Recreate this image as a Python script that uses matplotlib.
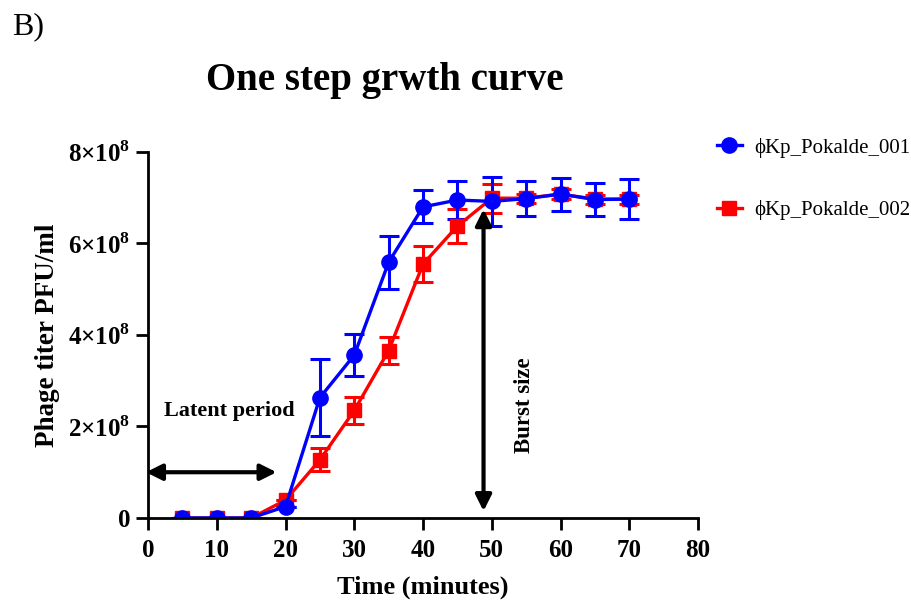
import numpy as np
import matplotlib
matplotlib.use('Agg')
import matplotlib.pyplot as plt
from matplotlib.lines import Line2D

plt.rcParams['font.family'] = ['Liberation Serif', 'DejaVu Serif']
plt.rcParams['mathtext.fontset'] = 'custom'
plt.rcParams['mathtext.rm'] = 'Liberation Serif:bold'
plt.rcParams['mathtext.bf'] = 'Liberation Serif:bold'

time = [5, 10, 15, 20, 25, 30, 35, 40, 45, 50, 55, 60, 65, 70]
# titer in units of 1e8 PFU/ml
kp001 = [0, 0, 0, 0.25, 2.63, 3.56, 5.59, 6.80, 6.95, 6.92, 6.98, 7.08, 6.96, 6.97]
kp001_err = [0, 0, 0, 0, 0.84, 0.46, 0.58, 0.36, 0.42, 0.53, 0.39, 0.36, 0.37, 0.44]
kp002 = [0, 0, 0, 0.39, 1.27, 2.35, 3.66, 5.55, 6.38, 6.99, 6.99, 7.08, 6.97, 6.97]
kp002_err = [0, 0, 0, 0, 0.25, 0.29, 0.30, 0.40, 0.38, 0.32, 0.1, 0.1, 0.1, 0.1]

yticks = [0, 2, 4, 6, 8]
ytick_labels = ['0', r'$2{\times}10^{8}$', r'$4{\times}10^{8}$', r'$6{\times}10^{8}$', r'$8{\times}10^{8}$']

fig = plt.figure(figsize=(9.12, 6), dpi=100)
ax = fig.add_axes([0.1623, 0.1367, 0.6031, 0.61])

scale = 1e8
ax.errorbar(time, np.array(kp002) * scale, yerr=np.array(kp002_err) * scale,
            color='#ff0000', marker='s', markersize=10, linewidth=2.4,
            elinewidth=2.2, capsize=7, capthick=2.2)
ax.errorbar(time, np.array(kp001) * scale, yerr=np.array(kp001_err) * scale,
            color='#0000ff', marker='o', markersize=11, linewidth=2.4,
            elinewidth=2.2, capsize=7, capthick=2.2)

ax.set_xlim(0, 80)
ax.set_ylim(0, 8e8)
ax.set_xticks(range(0, 81, 10))
ax.set_yticks([v * scale for v in yticks])
ax.set_yticklabels(ytick_labels)

for s in ['top', 'right']:
    ax.spines[s].set_visible(False)
for s in ['left', 'bottom']:
    ax.spines[s].set_linewidth(2)
ax.tick_params(direction='out', length=8.5, width=2, labelsize=18)
ax.tick_params(axis='x', pad=6.5)
ax.tick_params(axis='y', pad=4)
for lab in ax.get_xticklabels() + ax.get_yticklabels():
    lab.set_fontweight('bold')

ax.set_xlabel('Time (minutes)', fontsize=19, fontweight='bold', labelpad=10)
ax.set_ylabel('Phage titer PFU/ml', fontsize=19.5, fontweight='bold', labelpad=6)

# latent period arrow
ax.annotate('', xy=(-0.3, 1e8), xytext=(18.7, 1e8),
            arrowprops=dict(arrowstyle='<|-|>', color='black', lw=3,
                            mutation_scale=24, shrinkA=0, shrinkB=0),
            annotation_clip=False)
ax.text(11.8, 2.33e8, 'Latent period', fontsize=16, fontweight='bold',
        ha='center', va='center')

# burst size arrow
ax.annotate('', xy=(48.8, 0.15e8), xytext=(48.8, 6.75e8),
            arrowprops=dict(arrowstyle='<|-|>', color='black', lw=3,
                            mutation_scale=24, shrinkA=0, shrinkB=0))
ax.text(54.8, 2.47e8, 'Burst size', fontsize=16.5, fontweight='bold',
        rotation=90, ha='center', va='center')

h1 = Line2D([], [], color='#0000ff', marker='o', markersize=11, linewidth=2.4)
h2 = Line2D([], [], color='#ff0000', marker='s', markersize=10, linewidth=2.4)
ax.legend(handles=[h1, h2], labels=['ϕKp_Pokalde_001', 'ϕKp_Pokalde_002'],
          loc='upper left', bbox_to_anchor=(1.0, 1.09),
          frameon=False, fontsize=15, handlelength=1.2, labelspacing=2.05,
          handletextpad=0.6)

fig.text(0.013, 0.955, 'B)', fontsize=23, ha='left', va='center')
fig.text(0.422, 0.866, 'One step grwth curve', fontsize=28, fontweight='bold',
         ha='center', va='center')

fig.savefig('out.png', dpi=100)
